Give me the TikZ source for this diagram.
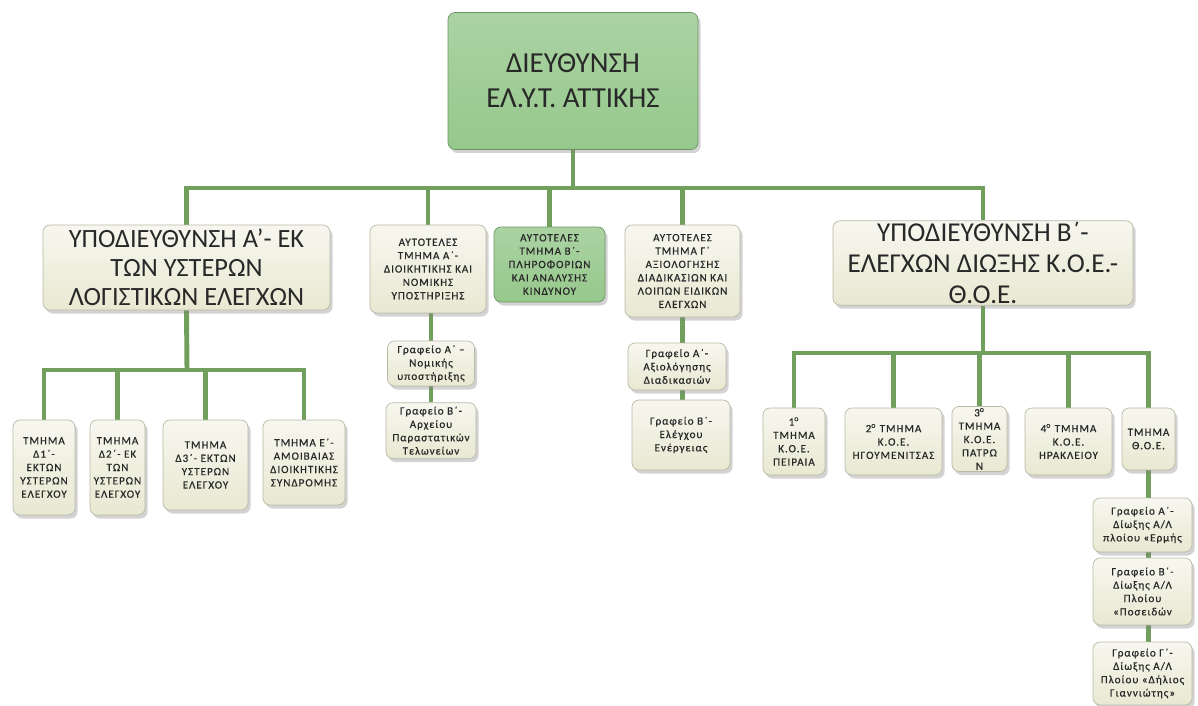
\documentclass[tikz,border=0pt]{standalone}
\usepackage{fontspec}
\setmainfont{Carlito}
\newfontfamily\spacedfont[LetterSpace=9,FakeBold=0.6]{Carlito}
\usetikzlibrary{positioning,shadows,backgrounds}

\definecolor{boxcream}{RGB}{232,232,210}
\definecolor{boxedge}{RGB}{185,185,165}
\definecolor{boxgreen}{RGB}{150,200,140}
\definecolor{greenedge}{RGB}{105,150,95}
\definecolor{linegreen}{RGB}{112,160,92}
\definecolor{textgrey}{RGB}{40,40,40}

\begin{document}
\begin{tikzpicture}[x=0.02cm, y=-0.02cm,
    box/.style={draw=boxedge, rounded corners=4pt, top color=white!65!boxcream, bottom color=boxcream,
        align=center, inner sep=1pt, text=textgrey,
        drop shadow={opacity=0.35, shadow xshift=1.5pt, shadow yshift=-2pt}},
    gbox/.style={box, draw=greenedge, top color=boxgreen!80!white, bottom color=boxgreen},
    bigtext/.style={font=\fontsize{15}{16.5}\selectfont},
    smalltext/.style={font=\spacedfont\fontsize{6.3}{7.6}\selectfont},
    conn/.style={draw=linegreen, line width=2.8pt}
]
\useasboundingbox (0,0) rectangle (1198,706);

% top
\node[gbox, minimum width=5cm, minimum height=2.74cm, font=\fontsize{16.5}{20}\selectfont] (dir) at (573,81) {ΔΙΕΥΘΥΝΣΗ\\ΕΛ.Υ.Τ. ΑΤΤΙΚΗΣ};

% first level
\node[box, bigtext, minimum width=5.74cm, minimum height=1.7cm] (subA) at (186.5,267.5) {ΥΠΟΔΙΕΥΘΥΝΣΗ Α’- ΕΚ\\ΤΩΝ ΥΣΤΕΡΩΝ\\ΛΟΓΙΣΤΙΚΩΝ ΕΛΕΓΧΩΝ};
\node[box, smalltext, minimum width=2.32cm, minimum height=1.76cm] (atA) at (428,269) {ΑΥΤΟΤΕΛΕΣ\\ΤΜΗΜΑ Α΄-\\ΔΙΟΙΚΗΤΙΚΗΣ ΚΑΙ\\ΝΟΜΙΚΗΣ\\ΥΠΟΣΤΗΡΙΞΗΣ};
\node[gbox, smalltext, minimum width=2.22cm, minimum height=1.5cm] (atB) at (549.5,264.5) {ΑΥΤΟΤΕΛΕΣ\\ΤΜΗΜΑ Β΄-\\ΠΛΗΡΟΦΟΡΙΩΝ\\ΚΑΙ ΑΝΑΛΥΣΗΣ\\ΚΙΝΔΥΝΟΥ};
\node[box, smalltext, minimum width=2.3cm, minimum height=1.84cm] (atG) at (682.5,271) {ΑΥΤΟΤΕΛΕΣ\\ΤΜΗΜΑ Γ΄\\ΑΞΙΟΛΟΓΗΣΗΣ\\ΔΙΑΔΙΚΑΣΙΩΝ ΚΑΙ\\ΛΟΙΠΩΝ ΕΙΔΙΚΩΝ\\ΕΛΕΓΧΩΝ};
\node[box, font=\fontsize{15.5}{17.5}\selectfont, minimum width=6cm, minimum height=1.6cm] (subB) at (983,263) {ΥΠΟΔΙΕΥΘΥΝΣΗ Β΄-\\ΕΛΕΓΧΩΝ ΔΙΩΞΗΣ Κ.Ο.Ε.-\\Θ.Ο.Ε.};

% offices of the independent sections
\node[box, smalltext, minimum width=1.74cm, minimum height=0.9cm] (gA1) at (431,363.5) {Γραφείο Α΄ –\\Νομικής\\υποστήριξης};
\node[box, smalltext, minimum width=1.8cm, minimum height=1.12cm, below=0.32cm of gA1] (gA2) {Γραφείο Β΄-\\Αρχείου\\Παραστατικών\\Τελωνείων};
\node[box, smalltext, minimum width=1.96cm, minimum height=0.94cm] (gG1) at (677,366.5) {Γραφείο Α΄-\\Αξιολόγησης\\Διαδικασιών};
\node[box, smalltext, minimum width=1.96cm, minimum height=1.4cm] (gG2) at (681,435) {Γραφείο Β΄-\\Ελέγχου\\Ενέργειας};

% sections of subA
\node[box, smalltext, minimum width=1.24cm, minimum height=1.9cm] (d1) at (44,467.5) {ΤΜΗΜΑ\\Δ1΄-\\ΕΚΤΩΝ\\ΥΣΤΕΡΩΝ\\ΕΛΕΓΧΟΥ};
\node[box, smalltext, minimum width=1.1cm, minimum height=1.9cm] (d2) at (117.5,467.5) {ΤΜΗΜΑ\\Δ2΄- ΕΚ\\ΤΩΝ\\ΥΣΤΕΡΩΝ\\ΕΛΕΓΧΟΥ};
\node[box, smalltext, minimum width=1.7cm, minimum height=1.8cm] (d3) at (205.5,465) {ΤΜΗΜΑ\\Δ3΄- ΕΚΤΩΝ\\ΥΣΤΕΡΩΝ\\ΕΛΕΓΧΟΥ};
\node[box, smalltext, minimum width=1.64cm, minimum height=1.7cm] (e) at (304,462.5) {ΤΜΗΜΑ Ε΄-\\ΑΜΟΙΒΑΙΑΣ\\ΔΙΟΙΚΗΤΙΚΗΣ\\ΣΥΝΔΡΟΜΗΣ};

% sections of subB
\node[box, smalltext, minimum width=1.24cm, minimum height=1.34cm] (k1) at (794,441.5) {1\textsuperscript{ο}\\ΤΜΗΜΑ\\Κ.Ο.Ε.\\ΠΕΙΡΑΙΑ};
\node[box, smalltext, minimum width=1.94cm, minimum height=1.34cm] (k2) at (893.5,441.5) {2\textsuperscript{ο} ΤΜΗΜΑ\\Κ.Ο.Ε.\\ΗΓΟΥΜΕΝΙΤΣΑΣ};
\node[box, smalltext, minimum width=1.1cm, minimum height=1.24cm] (k3) at (979.5,439) {3\textsuperscript{ο}\\ΤΜΗΜΑ\\Κ.Ο.Ε.\\ΠΑΤΡΩ\\Ν};
\node[box, smalltext, minimum width=1.74cm, minimum height=1.34cm] (k4) at (1068.5,441.5) {4\textsuperscript{ο} ΤΜΗΜΑ\\Κ.Ο.Ε.\\ΗΡΑΚΛΕΙΟΥ};
\node[box, smalltext, minimum width=1.06cm, minimum height=1.24cm] (k5) at (1148.5,439) {ΤΜΗΜΑ\\Θ.Ο.Ε.};

% offices of Θ.Ο.Ε.
\node[box, smalltext, minimum width=1.98cm, minimum height=1.08cm] (p1) at (1142.5,525) {Γραφείο Α΄-\\Δίωξης Α/Λ\\πλοίου «Ερμής};
\node[box, smalltext, minimum width=1.98cm, minimum height=1.34cm] (p2) at (1142.5,591.5) {Γραφείο Β΄-\\Δίωξης Α/Λ\\Πλοίου\\«Ποσειδών};
\node[box, smalltext, minimum width=1.98cm, minimum height=1.26cm] (p3) at (1142.5,673.5) {Γραφείο Γ΄-\\Δίωξης Α/Λ\\Πλοίου «Δήλιος\\Γιαννιώτης»};

% connectors
\coordinate (bus) at (573,188);
\coordinate (busA) at (187,370);
\coordinate (busB) at (983,353);
\begin{pgfonlayer}{background}
\draw[conn] (dir.south) -- (bus);
\draw[conn] (subA.north) |- (subB.north |- bus) -- (subB.north);
\foreach \n in {atA,atB,atG}
    \draw[conn] (bus -| \n.north) -- (\n.north);

\draw[conn] (subA.south) -- (busA);
\draw[conn] (d1.north) |- (e.north |- busA) -- (e.north);
\foreach \n in {d2,d3}
    \draw[conn] (busA -| \n.north) -- (\n.north);

\draw[conn] (subB.south) -- (busB);
\draw[conn] (k1.north) |- (k5.north |- busB) -- (k5.north);
\foreach \n in {k2,k3,k4}
    \draw[conn] (busB -| \n.north) -- (\n.north);

\draw[conn] (gA1.north |- atA.south) -- (gA1.north);
\draw[conn] (gA1.south) -- (gA2.north);
\draw[conn] (atG.south) -- (atG.south |- gG1.north);
\draw[conn] (atG.south |- gG1.south) -- (atG.south |- gG2.north);
\draw[conn] (k5.south) -- (k5.south |- p1.north);
\draw[conn] (k5.south |- p1.south) -- (k5.south |- p2.north);
\draw[conn] (k5.south |- p2.south) -- (k5.south |- p3.north);
\end{pgfonlayer}
\end{tikzpicture}
\end{document}
